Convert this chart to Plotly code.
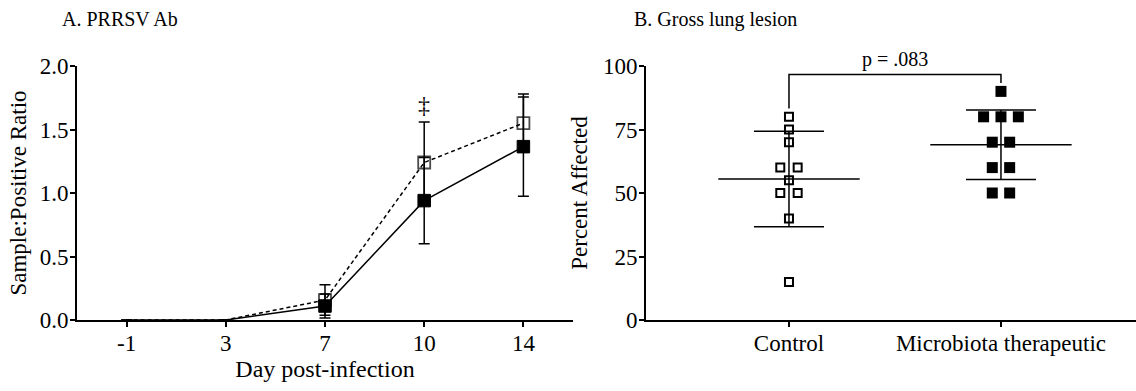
import numpy as np
import plotly.graph_objects as go

# ---------------- data ----------------
days = ["-1", "3", "7", "10", "14"]
ctrl_mean = [0.0, 0.0, 0.157, 1.24, 1.55]
ctrl_sd = [0.0, 0.0, 0.12, 0.32, 0.23]
mt_mean = [0.0, 0.0, 0.11, 0.94, 1.365]
mt_sd = [0.0, 0.0, 0.095, 0.34, 0.39]

groups = ["Control", "Microbiota therapeutic"]
control_lesion = [80, 75, 70, 60, 60, 55, 50, 50, 40, 15]
micro_lesion = [90, 80, 80, 80, 70, 70, 60, 60, 50, 50]

p_text = "p = .083"
sig_mark = "\u2021"

FONT = "'Liberation Serif', 'Times New Roman', serif"
W, H = 1136, 391

fig = go.Figure()

# ---------------- panel A ----------------
xi = np.arange(len(days))
ctrl_sizes = [12 if m > 0 else 0 for m in ctrl_mean]
mt_sizes = [12.5 if m > 0 else 0 for m in mt_mean]

fig.add_trace(go.Scatter(
    x=xi, y=ctrl_mean, mode="lines+markers", xaxis="x", yaxis="y",
    line=dict(color="black", width=1.5, dash="4px,3px"),
    marker=dict(symbol="square", size=ctrl_sizes, color="rgba(255,255,255,0)",
                line=dict(color="black", width=1.8)),
    error_y=dict(type="data", array=ctrl_sd, visible=True, color="black",
                 thickness=1.5, width=5.5),
    showlegend=False,
))
fig.add_trace(go.Scatter(
    x=xi, y=mt_mean, mode="lines+markers", xaxis="x", yaxis="y",
    line=dict(color="black", width=1.5),
    marker=dict(symbol="square", size=mt_sizes, color="black", opacity=1,
                line=dict(color="black", width=1)),
    error_y=dict(type="data", array=mt_sd, visible=True, color="black",
                 thickness=1.5, width=5.5),
    showlegend=False,
))

# ---------------- panel B ----------------
def offsets(vals, step):
    vals = np.asarray(vals)
    off = np.zeros(len(vals))
    for v in np.unique(vals):
        idx = np.where(vals == v)[0]
        n = len(idx)
        off[idx] = (np.arange(n) - (n - 1) / 2) * step
    return off

STEP = 0.082
for gi, (vals, filled) in enumerate([(control_lesion, False), (micro_lesion, True)]):
    vals = np.asarray(vals, dtype=float)
    xs = gi + offsets(vals, STEP)
    if filled:
        mk = dict(symbol="square", size=11, color="black", line=dict(width=0))
    else:
        mk = dict(symbol="square", size=8, color="rgba(255,255,255,0)",
                  line=dict(color="black", width=2))
    fig.add_trace(go.Scatter(x=xs, y=vals, mode="markers", xaxis="x2", yaxis="y2",
                             marker=mk, showlegend=False))
    m = float(np.mean(vals))
    sd = float(np.std(vals, ddof=1))
    fig.add_trace(go.Scatter(
        x=[gi], y=[m], mode="markers", xaxis="x2", yaxis="y2",
        marker=dict(symbol="line-ew", size=101, color="black",
                    line=dict(color="black", width=1.5)),
        error_y=dict(type="data", array=[sd], visible=True, color="black",
                     thickness=1.5, width=35),
        showlegend=False, cliponaxis=False,
    ))

# significance bracket
br_top = 96.7
fig.add_trace(go.Scatter(
    x=[0, 0, 1, 1], y=[83.3, br_top, br_top, 93.3], mode="lines",
    xaxis="x2", yaxis="y2", line=dict(color="black", width=1.5),
    showlegend=False, cliponaxis=False,
))

axis_common = dict(showline=True, linecolor="black", linewidth=2, ticks="outside",
                   ticklen=5, tickwidth=1.5, tickcolor="black", showgrid=False,
                   zeroline=False, tickfont=dict(family=FONT, size=23, color="black"))

fig.update_layout(
    width=W, height=H,
    font=dict(family=FONT, color="black"),
    margin=dict(l=0, r=0, t=66, b=71),
    paper_bgcolor="white", plot_bgcolor="white",
    xaxis=dict(domain=[77 / W, 573 / W], range=[-0.5, 4.5], tickvals=list(xi),
               ticktext=days, anchor="y", ticklabelstandoff=-4,
               title=dict(text="Day post-infection", font=dict(family=FONT, size=24, color="black"),
                          standoff=5),
               **axis_common),
    yaxis=dict(domain=[0, 1], range=[0, 2], dtick=0.5, tickformat=".1f", anchor="x",
               ticklabelstandoff=-3,
               title=dict(text="Sample:Positive Ratio", font=dict(family=FONT, size=23, color="black"),
                          standoff=7),
               **axis_common),
    xaxis2=dict(domain=[646 / W, 1.0], range=[-0.6745, 1.637], tickvals=[0, 1],
                ticktext=groups, anchor="y2", ticklabelstandoff=-4, **axis_common),
    yaxis2=dict(domain=[0, 1], range=[0, 100], dtick=25, anchor="x2",
                ticklabelstandoff=-3,
                title=dict(text="Percent Affected", font=dict(family=FONT, size=23, color="black"),
                           standoff=9),
                **axis_common),
    annotations=[
        dict(text="A. PRRSV Ab", x=60 / W, y=1, xref="paper", yref="paper",
             xanchor="left", yanchor="middle", yshift=47,
             showarrow=False, font=dict(family=FONT, size=20, color="black")),
        dict(text="B. Gross lung lesion", x=632 / W, y=1, xref="paper", yref="paper",
             xanchor="left", yanchor="middle", yshift=47,
             showarrow=False, font=dict(family=FONT, size=20, color="black")),
        dict(text=p_text, x=0.5, y=br_top, xref="x2", yref="y2",
             xanchor="center", yanchor="bottom", yshift=1,
             showarrow=False, font=dict(family=FONT, size=20, color="black")),
        dict(text=sig_mark, x=3, y=1.69, xref="x", yref="y",
             xanchor="center", yanchor="middle",
             showarrow=False, font=dict(family=FONT, size=24, color="black")),
    ],
)

fig.write_html("out.html")
